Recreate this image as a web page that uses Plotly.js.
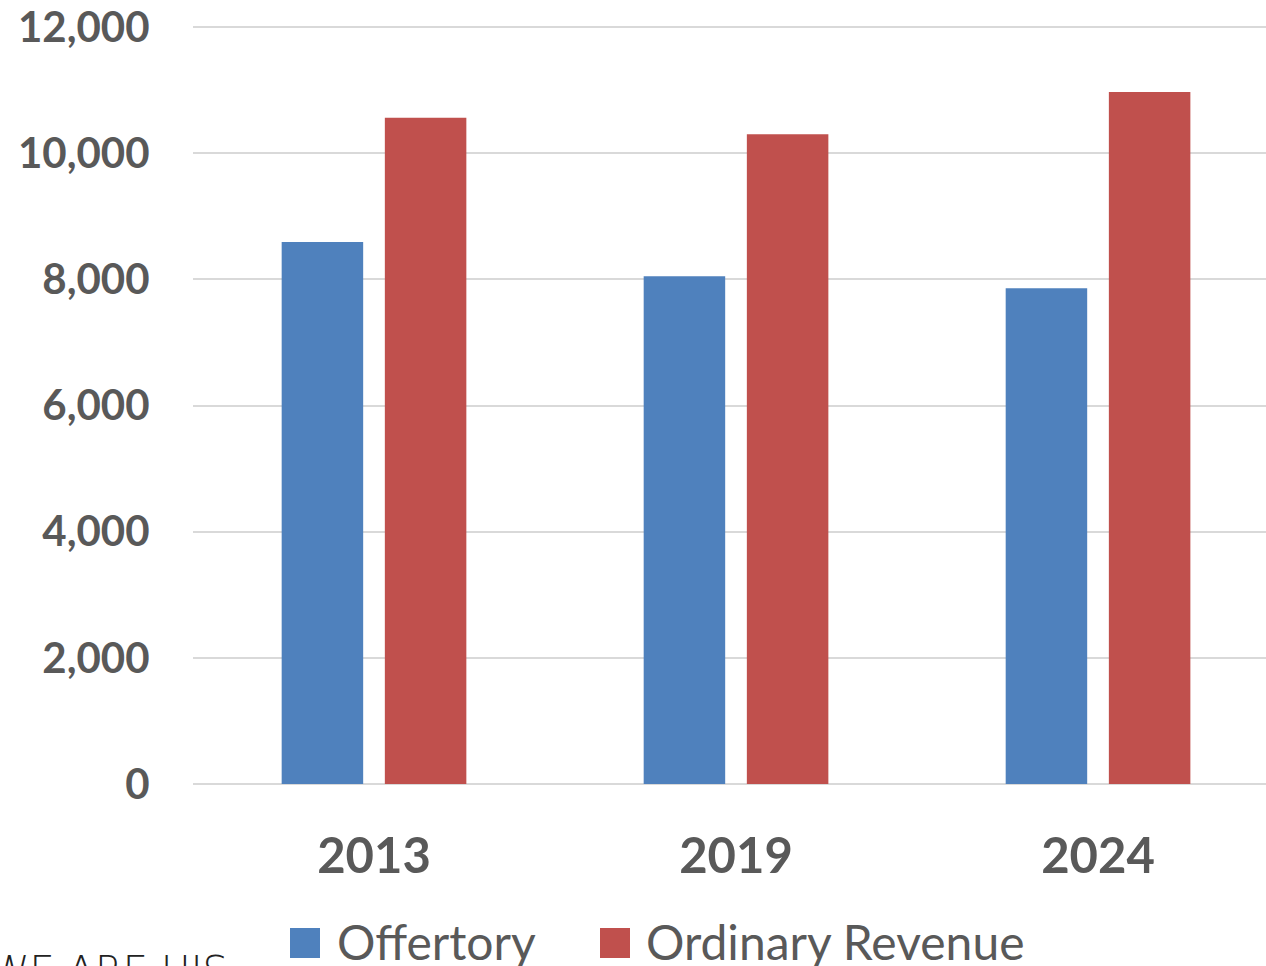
<!DOCTYPE html>
<html>
<head>
<meta charset="utf-8">
<script src="https://cdn.plot.ly/plotly-3.0.1.min.js"></script>
<style>html,body{margin:0;padding:0;background:#fff;overflow:hidden}#chart{width:1266px;height:966px}</style>
</head>
<body>
<div id="chart"></div>
<script>
const categories = ["2013", "2019", "2024"];
const seriesNames = ["Offertory", "Ordinary Revenue"];
const offertory = [8590, 8050, 7860];
const ordinaryRevenue = [10560, 10300, 10970];
const yTickValues = [0, 2000, 4000, 6000, 8000, 10000, 12000];
const footerText = "WE ARE HIS";

const colors = ["#4f81bd", "#c0504d"];
const textColor = "#595959";
const fontFamily = "Lato, 'Open Sans', sans-serif";

const traces = [
  {type: "bar", name: seriesNames[0], x: categories, y: offertory, marker: {color: colors[0]}, showlegend: false, hoverinfo: "x+y"},
  {type: "bar", name: seriesNames[1], x: categories, y: ordinaryRevenue, marker: {color: colors[1]}, showlegend: false, hoverinfo: "x+y"}
];

// custom legend (large square swatches)
const W = 1073, H = 758;
function px(x){ return (x - 193) / W; }
function py(y){ return (784 - y) / H; }
const legendItems = [
  {sq: 290, tx: 335},
  {sq: 600, tx: 644}
];
const shapes = legendItems.map((it, i) => ({
  type: "rect", xref: "paper", yref: "paper",
  x0: px(it.sq), x1: px(it.sq + 30), y0: py(958), y1: py(928),
  fillcolor: colors[i], line: {width: 0}
}));
const annotations = legendItems.map((it, i) => ({
  xref: "paper", yref: "paper", x: px(it.tx), y: py(941),
  xanchor: "left", yanchor: "middle", showarrow: false,
  text: seriesNames[i], font: {family: fontFamily, size: 48, color: textColor}
}));
annotations.push({
  xref: "paper", yref: "paper", x: px(-12), y: py(946),
  xanchor: "left", yanchor: "top", showarrow: false,
  text: footerText, font: {family: "'DejaVu Sans', sans-serif", size: 40, color: "#222", weight: 200}
});

const layout = {
  width: 1266, height: 966,
  margin: {l: 193, r: 0, t: 26, b: 182},
  paper_bgcolor: "#fff", plot_bgcolor: "#fff",
  barmode: "group", bargap: 0.43, bargroupgap: 0.21,
  xaxis: {
    type: "category", range: [-0.5, 2.464],
    showgrid: false, showline: false, zeroline: false,
    ticks: "outside", ticklen: 29, tickcolor: "rgba(0,0,0,0)",
    tickfont: {family: fontFamily, size: 49, color: textColor, weight: 700}
  },
  yaxis: {
    range: [0, 12016], tickvals: yTickValues, tickformat: ",d",
    showgrid: true, gridcolor: "#d9d9d9", gridwidth: 2,
    zeroline: true, zerolinecolor: "#d9d9d9", zerolinewidth: 2,
    showline: false,
    ticks: "outside", ticklen: 34, tickcolor: "rgba(0,0,0,0)",
    tickfont: {family: fontFamily, size: 42, color: textColor, weight: 700}
  },
  shapes: shapes,
  annotations: annotations
};

Plotly.newPlot("chart", traces, layout, {displayModeBar: false, staticPlot: true});
</script>
</body>
</html>
